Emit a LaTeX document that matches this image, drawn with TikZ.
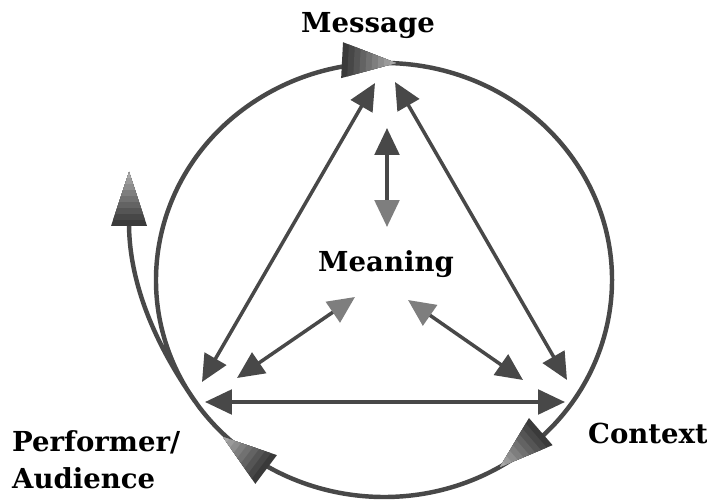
\documentclass[tikz,border=0pt]{standalone}
\usepackage{fontspec}
\setmainfont{DejaVu Serif}
\usetikzlibrary{arrows.meta}
\definecolor{linegray}{HTML}{484848}
\definecolor{headdark}{HTML}{3A3A3A}
\definecolor{headlight}{HTML}{A8A8A8}
\definecolor{midgray}{HTML}{7E7E7E}
\tikzset{
  % big head of the loop, tip at the origin, dark at the base
  bighead/.pic={
    \foreach \k in {0,...,8} {
      \pgfmathsetmacro{\xa}{-54+6*\k}
      \pgfmathsetmacro{\ha}{-\xa/3}
      \pgfmathtruncatemacro{\mix}{12.5*\k}
      \fill[headlight!\mix!headdark] (\xa,\ha) -- (0,0) -- (\xa,-\ha) -- cycle;
    }
  },
  link/.style={draw=linegray,line width=3pt,{Triangle[length=23pt,width=21pt]}-{Triangle[length=23pt,width=21pt]}},
  softlink/.style={draw=linegray,line width=3pt,{Triangle[length=23pt,width=21pt,color=midgray]}-{Triangle[length=23pt,width=21pt]}}
}
\begin{document}
\begin{tikzpicture}[x=0.03cm,y=0.03cm,font=\fontsize{23.5}{28}\selectfont\bfseries]
  \useasboundingbox (0,0) rectangle (707,502);
  % labels
  \node[anchor=base] (msg) at (368,469) {Message};
  \node[anchor=base] (mean) at (386,230) {Meaning};
  \node[anchor=base] (ctx) at (648,59) {Context};
  \node[anchor=north west,align=left,inner sep=0,font=\fontsize{23.5}{32}\selectfont\bfseries] (perf) at (12,72) {Performer/\\Audience};
  % ends of the inner arrows
  \coordinate (msgL) at (375,419);
  \coordinate (msgR) at (395,420);
  \coordinate (msgB) at (387,374);
  \coordinate (meanT) at (387,275);
  \coordinate (meanL) at (355,205);
  \coordinate (meanR) at (408,202);
  \coordinate (perfT) at (202,120);
  \coordinate (perfR) at (237,124);
  \coordinate (perfM) at (205,100);
  \coordinate (ctxT) at (567,122);
  \coordinate (ctxL) at (523,122);
  \coordinate (ctxM) at (565,100);
  % the loop
  \draw[linegray,line width=3.8pt] (384,222) ++(214:228 and 217)
    arc[start angle=214,end angle=-144,x radius=228,y radius=217]
    .. controls (164.5,143) and (129,209) .. (129,279);
  \foreach \tip/\ang in {{(396,439)}/-3,{(500,35)}/221,{(223,65)}/143,{(129,330)}/90}
    \pic[rotate=\ang] at \tip {bighead};
  % inner arrows
  \draw[link] (msgL) -- (perfT);
  \draw[link] (msgR) -- (ctxT);
  \draw[link] (perfM) -- (ctxM);
  \draw[softlink] (meanT) -- (msgB);
  \draw[softlink] (meanL) -- (perfR);
  \draw[softlink] (meanR) -- (ctxL);
\end{tikzpicture}
\end{document}
